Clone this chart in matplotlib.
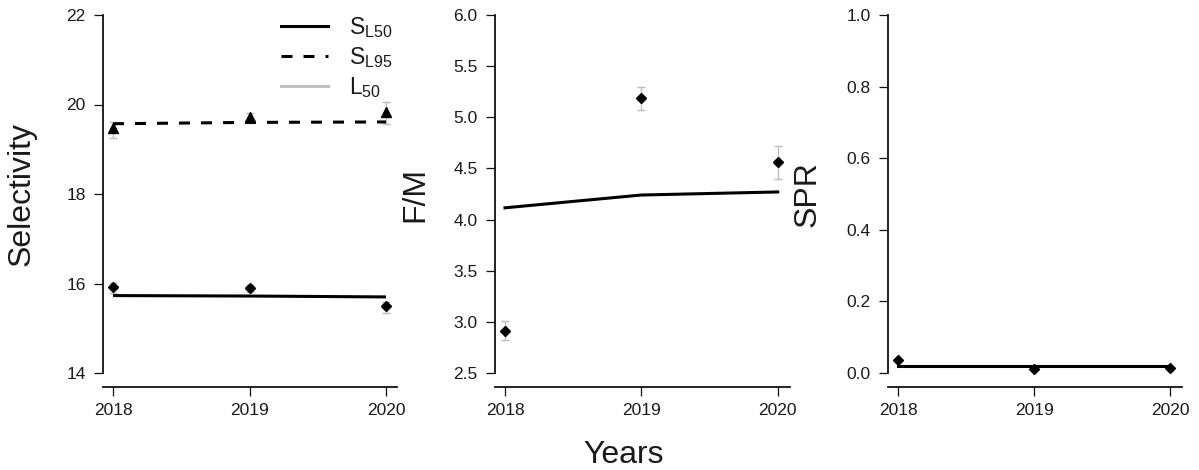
import matplotlib
matplotlib.use("Agg")
import matplotlib.pyplot as plt
from matplotlib.lines import Line2D
import numpy as np

plt.rcParams['font.family'] = ['Liberation Sans', 'DejaVu Sans']
plt.rcParams['mathtext.fontset'] = 'custom'
plt.rcParams['mathtext.rm'] = 'Liberation Sans'

# ---------------- data ----------------
years = [2018, 2019, 2020]

sl50_obs = [15.93, 15.89, 15.50]
sl50_lo = [15.79, 15.82, 15.33]
sl50_hi = [16.02, 15.96, 15.59]
sl50_fit = [15.73, 15.72, 15.70]

sl95_obs = [19.47, 19.71, 19.84]
sl95_lo = [19.25, 19.58, 19.56]
sl95_hi = [19.62, 19.80, 20.06]
sl95_fit = [19.57, 19.60, 19.61]

fm_obs = [2.91, 5.19, 4.56]
fm_lo = [2.82, 5.07, 4.40]
fm_hi = [3.01, 5.30, 4.72]
fm_fit = [4.115, 4.24, 4.27]

spr_obs = [0.035, 0.011, 0.014]
spr_fit = [0.020, 0.020, 0.020]

sel_ticks = [14, 16, 18, 20, 22]
fm_ticks = [2.5, 3.0, 3.5, 4.0, 4.5, 5.0, 5.5, 6.0]
spr_ticks = [0.0, 0.2, 0.4, 0.6, 0.8, 1.0]

legend_labels = [r'$\mathregular{S_{L50}}$', r'$\mathregular{S_{L95}}$', r'$\mathregular{L_{50}}$']

# ---------------- figure ----------------
W, H = 1199, 470
fig = plt.figure(figsize=(W / 100, H / 100), dpi=100)

ERR_COL = '#BDBDBD'
TXT_COL = '#1a1a1a'


def px_axes(l, r, t, b):
    return fig.add_axes([l / W, 1 - b / H, (r - l) / W, (b - t) / H])


def style(ax, yticks, fmt):
    for s in ['top', 'right']:
        ax.spines[s].set_visible(False)
    ax.spines['left'].set_bounds(yticks[0], yticks[-1])
    for s in ['left', 'bottom']:
        ax.spines[s].set_linewidth(1.3)
        ax.spines[s].set_color('#111111')
    ax.set_yticks(yticks)
    ax.set_yticklabels([fmt.format(v) for v in yticks])
    ax.set_xticks(years)
    ax.set_xticklabels([str(y) for y in years])
    ax.tick_params(axis='both', length=6.5, width=0.9, color='#111111',
                   labelsize=12.5, labelcolor=TXT_COL)
    ax.tick_params(axis='y', pad=6)
    ax.tick_params(axis='x', pad=5)


def errbars(ax, obs, lo, hi):
    obs = np.array(obs)
    yerr = [obs - np.array(lo), np.array(hi) - obs]
    ax.errorbar(years, obs, yerr=yerr, fmt='none', ecolor=ERR_COL,
                elinewidth=1.0, capsize=3.0, capthick=1.0, zorder=2)


LW = 2.2

# Panel 1: Selectivity
ax1 = px_axes(103, 397, 15, 387)
ax1.set_xlim(2018 - 10 / 136.5, 2020 + 11 / 136.5)
ax1.set_ylim(14 - 14 / 44.75, 22)
errbars(ax1, sl95_obs, sl95_lo, sl95_hi)
errbars(ax1, sl50_obs, sl50_lo, sl50_hi)
ax1.plot(years, sl50_fit, color='black', lw=LW, solid_capstyle='butt', zorder=3)
ax1.plot(years, sl95_fit, color='black', lw=LW, dashes=(3.6, 3.6), zorder=3)
ax1.plot(years, sl50_obs, 'D', color='black', ms=4.6, zorder=4)
ax1.plot(years, sl95_obs, '^', color='black', ms=6.5, zorder=4)
style(ax1, sel_ticks, '{:d}')

handles = [Line2D([], [], color='black', lw=LW),
           Line2D([], [], color='black', lw=LW, dashes=(3.6, 3.6)),
           Line2D([], [], color='#BEBEBE', lw=LW)]
leg = ax1.legend(handles, legend_labels, loc='upper left',
                 bbox_to_anchor=(270 / W, 1 - 4 / H), bbox_transform=fig.transFigure,
                 frameon=False, fontsize=16.5, handlelength=2.05, handletextpad=0.9,
                 labelspacing=0.22, borderpad=0.0)
for t in leg.get_texts():
    t.set_color(TXT_COL)

# Panel 2: F/M
ax2 = px_axes(495, 790, 15, 387)
ax2.set_xlim(2018 - 10 / 136.3, 2020 + 12.3 / 136.3)
ax2.set_ylim(2.5 - 14 / 102.3, 6.0)
errbars(ax2, fm_obs, fm_lo, fm_hi)
ax2.plot(years, fm_fit, color='black', lw=LW, zorder=3)
ax2.plot(years, fm_obs, 'D', color='black', ms=4.6, zorder=4)
style(ax2, fm_ticks, '{:.1f}')

# Panel 3: SPR
ax3 = px_axes(888, 1182, 15, 387)
ax3.set_xlim(2018 - 10 / 136, 2020 + 11.5 / 136)
ax3.set_ylim(0 - 14 / 358.3, 1.0)
ax3.plot(years, spr_obs, 'D', color='black', ms=4.6, zorder=4)
ax3.plot(years, spr_fit, color='black', lw=LW, zorder=3)
style(ax3, spr_ticks, '{:.1f}')

# axis titles
fig.text(22 / W, 1 - 194 / H, 'Selectivity', rotation=90, ha='center', va='center',
         fontsize=23, color=TXT_COL)
fig.text(415 / W, 1 - 194 / H, 'F/M', rotation=90, ha='center', va='center',
         fontsize=23, color=TXT_COL)
fig.text(808 / W, 1 - 194 / H, 'SPR', rotation=90, ha='center', va='center',
         fontsize=23, color=TXT_COL)
fig.text(624 / W, 1 - 455 / H, 'Years', ha='center', va='center',
         fontsize=23, color=TXT_COL)

fig.savefig('out.png', dpi=100)
